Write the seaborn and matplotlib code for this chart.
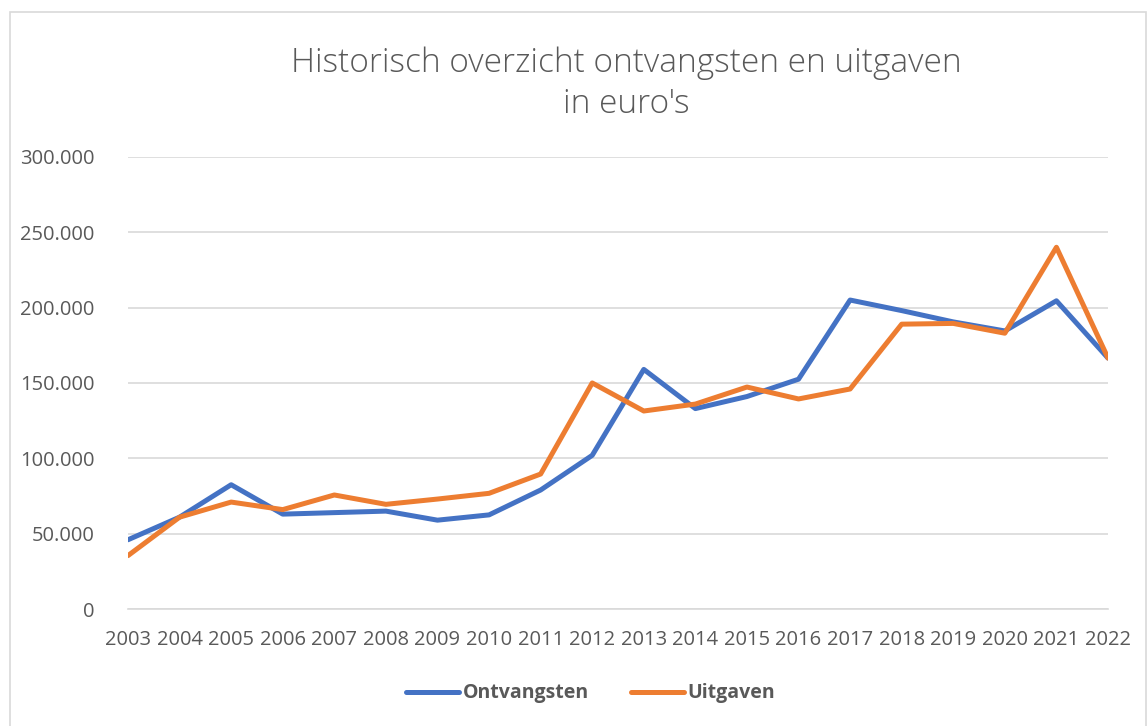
import matplotlib.pyplot as plt
from matplotlib.patches import Rectangle
from matplotlib.ticker import FuncFormatter
import pandas as pd
import seaborn as sns

years = list(range(2003, 2023))
ontvangsten = [46000, 61000, 82500, 63000, 64000, 65000, 59000, 62500, 79000, 102000,
               159000, 133000, 141000, 152500, 205000, 198000, 190500, 184500, 204500, 166500]
uitgaven = [35500, 61000, 71000, 66000, 75700, 69500, 73000, 76800, 89600, 150000,
            131400, 136000, 147300, 139400, 146000, 189000, 189500, 183000, 240000, 166500]

df = pd.DataFrame({
    "jaar": years * 2,
    "bedrag": ontvangsten + uitgaven,
    "reeks": ["Ontvangsten"] * len(years) + ["Uitgaven"] * len(years),
})

sns.set_style("white")
plt.rcParams["font.family"] = ["Open Sans", "DejaVu Sans"]
grey = "#595959"

fig = plt.figure(figsize=(11.47, 7.26), dpi=100)
ax = fig.add_axes([0.1116, 0.161, 0.8544, 0.623])

sns.lineplot(data=df, x="jaar", y="bedrag", hue="reeks",
             palette={"Ontvangsten": "#4472C4", "Uitgaven": "#ED7D31"},
             linewidth=3.6, ax=ax, legend=False)

ax.set_xlim(2003, 2022)
ax.set_ylim(0, 300000)
ax.set_xticks(years)
ax.set_yticks(range(0, 300001, 50000))
ax.yaxis.set_major_formatter(FuncFormatter(lambda v, p: f"{v:,.0f}".replace(",", ".")))
ax.grid(axis="y", color="#D9D9D9", linewidth=1.2)
ax.grid(axis="x", visible=False)
for s in ["top", "right", "left"]:
    ax.spines[s].set_visible(False)
ax.spines["bottom"].set_color("#D9D9D9")
ax.spines["bottom"].set_linewidth(1.2)
ax.tick_params(axis="both", length=0, colors=grey, labelsize=14.5)
ax.tick_params(axis="y", pad=24)
ax.tick_params(axis="x", pad=15)
ax.set_xlabel("")
ax.set_ylabel("")
ax.set_zorder(1)

fig.text(0.546, 0.885, "Historisch overzicht ontvangsten en uitgaven\nin euro's",
         ha="center", va="center", fontsize=24, color=grey, linespacing=1.3,
         fontweight="light")

handles = [plt.Line2D([], [], color="#4472C4", linewidth=3.6, solid_capstyle="round"),
           plt.Line2D([], [], color="#ED7D31", linewidth=3.6, solid_capstyle="round")]
leg = fig.legend(handles, ["Ontvangsten", "Uitgaven"], loc="center",
                 bbox_to_anchor=(0.515, 0.045), ncol=2, frameon=False,
                 handlelength=2.7, handletextpad=0.2, columnspacing=2.2,
                 prop={"size": 14, "weight": "bold"})
for t in leg.get_texts():
    t.set_color(grey)

fig.patches.append(Rectangle((0.009, -0.01), 0.99, 0.993, transform=fig.transFigure,
                             fill=False, edgecolor="#D9D9D9", linewidth=1.2))

fig.savefig("out.png", dpi=100)
